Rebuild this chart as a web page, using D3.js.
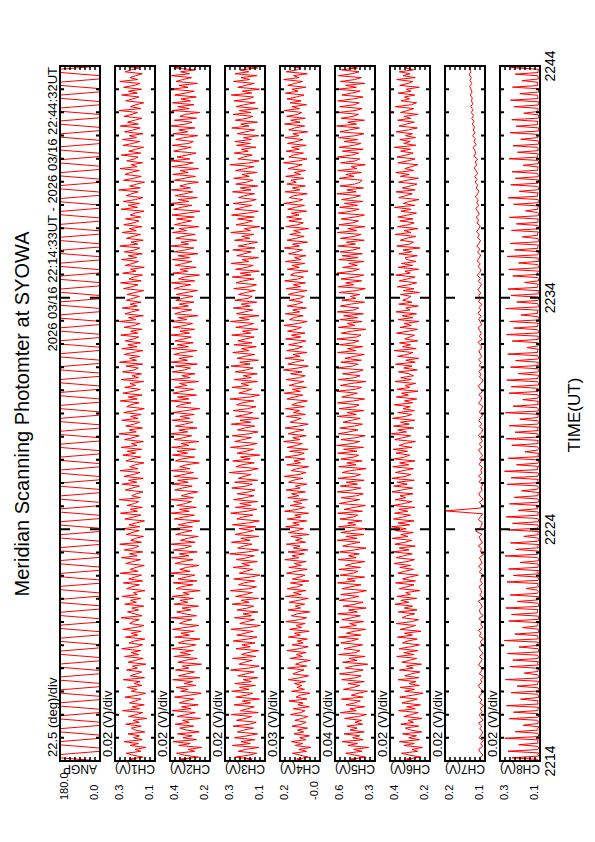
<!DOCTYPE html>
<html>
<head>
<meta charset="utf-8">
<script src="https://cdn.jsdelivr.net/npm/d3@7"></script>
<style>
  body { margin: 0; background: #fff; }
  text { font-family: "Liberation Sans", Arial, Helvetica, sans-serif; fill: #000; }
</style>
</head>
<body>
<div id="chart"></div>
<script>
// ---- data (time in minutes after 22:14 UT, channel values in mV, angle in deg) ----
var timeTicks = [0, 10, 20, 30];
var timeLabels = ["2214", "2224", "2234", "2244"];

var channels = ["ANGP", "CH1(V)", "CH2(V)", "CH3(V)", "CH4(V)", "CH5(V)", "CH6(V)", "CH7(V)", "CH8(V)"];
var divLabels = ["22.5 (deg)/div", "0.02 (V)/div", "0.02 (V)/div", "0.02 (V)/div", "0.03 (V)/div",
                 "0.04 (V)/div", "0.02 (V)/div", "0.02 (V)/div", "0.02 (V)/div"];
var topLabels = ["180.0", "0.3", "0.4", "0.3", "0.2", "0.6", "0.4", "0.2", "0.3"];
var bottomLabels = ["0.0", "0.1", "0.2", "0.1", "-0.0", "0.3", "0.2", "0.1", "0.1"];
var rangeMin = [0, 100, 220, 120, -20, 300, 220, 80, 120];
var rangeMax = [180, 260, 380, 280, 220, 620, 380, 240, 280];

// mirror angle: fast sweep, short hold at each end
var ang = [0,180,180,0, 0,180,180,0, 0,180,180,0, 0,180,180,0, 0,180,180,0,
  0,180,180,0, 0,180,180,0, 0,180,180,0, 0,180,180,0, 0,180,180,0,
  0,180,180,0, 0,180,180,0, 0,180,180,0, 0,180,180,0, 0,180,180,0,
  0,180,180,0, 0,180,180,0, 0,180,180,0, 0,180,180,0, 0,180,180,0,
  0,180,180,0, 0,180,180,0, 0,180,180,0, 0,180,180,0, 0,180,180,0,
  0,180,180,0, 0,180,180,0, 0,180,180,0, 0,180,180,0, 0,180,180,0,
  0,180,180,0, 0,180,180,0, 0,180,180,0, 0,180,180,0, 0,180,180,0,
  0,180,180,0, 0,180,180,0, 0,180,180,0, 0,180,180,0, 0,180,180,0,
  0,180,180,0, 0,180,180,0, 0,180,180,0, 0,180,180,0, 0,180,180,0,
  0,180,180,0, 0,180,180,0, 0,180,180,0, 0,180,180,0, 0,180,180,0,
  0,180,180,0, 0,180,180,0, 0,180,180,0, 0,180,180,0];

var ch1 = [170,201,148,188,215,157,179,136,199,166,224,151,186,162,208,141,180,194,155,217,
  163,188,133,206,174,149,230,161,192,143,202,179,156,220,167,138,195,173,211,152,
  184,160,227,142,199,175,153,214,170,191,136,208,179,147,222,165,196,158,233,174,
  150,204,183,141,218,169,195,155,229,177,144,201,188,163,236,152,180,210,166,193,
  145,221,174,198,157,232,171,186,140,213,193,162,227,149,205,181,154,239,168,199,
  176,143,217,190,158,234,171,202,149,223,183,165,241,154,197,178,146,215,192,163,
  230,161,204,175,142,221,187,156,238,170,199,151,212,182,165,243,158,193,174,148,
  219,191,162,232,173,206,147,224,186,160,240,168,201,179,144,216,195,157,229,177,
  211,153,235,172,194,146,222,188,163,244,175,203,150,217,184,161,233,169,198,155,
  225,181,143,213,196,164,239,171,207,152,228,187,159,221,178,200,145,236,166,192,
  154,230,183,167,216,149,242,174,202,161,223,190,148,233,172,209,158,219,186,165,
  237,169,197,153,224,182,160,243,176,206,147,220,193,163,231,171,200,156,215,188,
  162,212,179,145,226,191,168,238,155,204,185,150,229,176,198,143,219,189,166,234,
  173,207,151,223,180,161,241,169,196,147,214,187,158,232,175,203,152,225,184,164,
  218,157,199,181,144,236,170,208,162,227,178,149,215,194,167,245,159,201,173,142,
  226,185,155,220,198,163,240,172,195,150,213,182,168,235,157,205,177,146,228,190,
  161,231,174,203,148,222,186,159,239,167,210,181,153,224,192,170,244,156,198,176,
  145,217,189,164,233,171,206,154,226,183,160,241,169,200,178,151,220,194,163,237];

var ch2 = [295,338,266,321,354,281,307,253,345,299,368,274,328,291,350,263,315,341,285,359,
  303,330,258,352,312,279,371,296,334,267,343,318,285,362,301,255,337,309,356,276,
  324,290,369,261,346,313,282,358,305,331,254,349,319,271,365,298,339,287,373,310,
  277,347,322,260,361,302,336,283,370,316,265,342,325,293,375,274,320,353,297,332,
  266,364,308,340,286,372,303,327,259,355,334,289,367,272,348,315,281,377,300,341,
  314,264,360,329,288,374,304,343,271,366,321,294,378,280,338,311,267,357,330,292,
  369,290,347,312,261,363,326,283,376,303,342,275,353,318,294,379,287,335,308,269,
  361,330,291,373,307,349,269,365,324,286,377,300,341,315,263,358,334,282,370,309,
  352,278,374,304,336,265,363,327,293,380,309,345,272,359,321,288,372,301,339,283,
  366,317,261,355,337,296,376,305,350,274,368,328,286,361,313,342,266,375,299,333,
  280,371,322,298,358,271,378,310,344,289,365,331,273,374,306,351,287,360,325,295,
  376,302,340,282,367,319,290,379,312,349,269,361,334,293,372,306,343,284,357,329,
  288,355,316,270,364,337,297,375,281,346,323,262,368,309,339,276,359,326,292,371,
  301,348,268,363,319,285,377,306,336,273,357,328,279,370,314,344,265,362,331,294,
  354,283,372,311,260,366,335,292,378,304,347,271,359,320,289,374,298,341,313,267,
  362,324,278,369,307,339,266,373,318,287,376,301,352,311,276,365,333,295,371,305,
  287,357,325,269,368,309,345,280,377,316,292,363,274,340,321,261,372,303,349,284,
  370,298,336,275,361,318,283,379,308,344,270,356,329,294,374,302,338,279,365,312];

var ch3 = [208,171,239,185,153,227,198,144,250,179,216,161,242,192,150,231,204,166,248,181,
  155,234,200,173,255,147,218,189,163,244,178,211,142,237,195,169,253,184,222,158,
  241,175,207,149,229,196,164,258,186,143,224,202,171,250,157,214,190,145,236,179,
  212,160,247,188,152,233,200,167,256,181,139,221,194,162,243,174,208,148,232,191,
  165,252,183,215,146,238,199,170,259,187,154,226,205,161,245,178,140,223,197,169,
  248,182,213,151,235,193,163,261,189,146,229,206,172,254,180,217,144,240,201,166,
  224,157,250,186,143,233,210,168,257,192,153,239,176,221,149,246,198,164,231,185,
  160,253,195,171,242,149,227,204,175,263,184,147,236,213,163,249,179,218,141,232,
  196,166,258,188,152,241,209,174,251,183,148,230,202,161,255,177,220,145,238,193,
  169,247,190,156,234,212,165,260,181,142,225,199,173,252,186,216,150,243,175,207,
  151,239,194,167,256,180,221,146,232,203,161,249,185,214,155,244,172,228,198,163,
  253,177,210,148,237,191,166,258,183,223,144,234,200,169,247,179,215,153,241,188,
  171,226,197,159,245,182,154,236,207,164,251,176,219,143,238,193,167,255,185,212,
  146,233,204,175,249,160,227,189,150,242,181,213,165,257,178,203,141,236,196,170,
  230,163,254,191,147,240,209,173,247,186,155,226,201,162,250,176,219,149,237,194,
  168,245,183,212,152,238,199,164,259,180,144,228,205,171,243,187,214,156,234,179,
  241,174,206,145,231,196,161,253,184,217,150,239,192,168,248,177,223,147,235,202,
  159,244,188,166,255,173,211,142,229,197,163,246,181,216,153,240,185,221,149,232];

var ch4 = [72,120,48,99,145,61,107,34,130,83,152,65,102,43,136,78,115,55,148,91,
  63,131,87,52,158,95,70,141,44,113,82,166,58,124,99,40,151,73,119,89,
  134,67,171,101,49,143,112,76,175,60,127,94,38,161,86,122,64,179,105,51,
  148,81,116,56,170,98,133,45,162,90,124,69,185,103,61,152,118,41,173,96,
  129,72,164,110,50,188,93,139,65,176,114,83,158,47,146,102,70,181,123,57,
  167,92,134,63,191,107,148,74,172,53,140,100,182,66,127,87,155,46,169,117,
  79,186,104,143,60,177,95,131,49,193,113,72,160,89,138,55,174,108,151,68,
  183,99,128,59,169,142,82,195,106,64,153,121,48,180,97,136,71,189,111,75,
  162,53,177,120,86,198,101,144,63,171,130,77,190,108,51,159,124,92,182,67,
  140,102,187,73,149,115,56,178,135,83,194,98,146,61,166,121,78,184,104,69,
  157,88,199,112,50,173,132,76,191,100,142,59,180,118,85,168,107,65,186,95,
  151,70,175,123,91,196,109,57,163,138,81,188,102,144,62,177,116,84,165,99,
  74,171,126,58,183,97,140,67,192,111,79,157,134,52,176,105,149,71,187,94,
  133,64,169,119,86,194,103,145,55,178,127,75,161,98,139,48,185,113,80,167,
  90,181,106,152,60,174,128,73,197,117,84,164,137,57,189,101,146,68,179,122,
  154,77,186,96,135,66,172,125,87,199,110,58,166,141,79,183,104,150,63,175,
  118,82,190,107,143,54,168,131,72,193,99,156,69,180,114,89,195,103,147,61,
  160,93,178,121,76,187,112,148,65,174,129,85,198,106,139,56,182,117,95,171];

var ch5 = [425,492,375,458,534,404,470,351,516,440,563,394,479,423,548,386,500,443,525,399,
  461,407,543,431,369,578,450,501,383,531,464,418,569,395,489,435,360,553,473,422,
  516,385,566,452,411,584,469,395,539,481,358,560,443,508,379,591,455,421,548,476,
  399,572,490,433,593,414,529,466,375,581,448,503,390,566,484,417,598,441,512,371,
  555,460,396,587,504,429,574,449,368,564,492,413,600,458,523,383,578,471,436,589,
  415,540,477,381,595,451,512,426,583,468,372,559,499,420,603,443,533,389,573,486,
  365,592,454,518,405,581,475,438,599,401,547,467,377,586,506,424,569,448,394,601,
  482,413,578,440,530,387,596,462,416,563,495,371,590,452,524,403,575,469,431,598,
  444,551,392,607,478,423,571,454,379,593,509,436,582,465,400,556,487,418,603,449,
  524,390,588,460,428,600,472,383,565,502,441,606,457,407,577,491,372,595,464,419,
  560,443,395,602,481,434,574,410,541,466,386,599,455,520,399,585,474,429,604,447,
  412,570,488,375,593,461,523,403,582,439,551,393,601,469,431,578,494,384,564,453,
  496,421,587,448,378,596,471,535,407,572,459,390,604,483,425,558,442,510,388,590,
  437,563,402,581,475,419,597,456,529,386,576,467,411,602,445,517,380,589,478,432,
  571,459,385,594,490,427,583,440,545,398,567,472,416,605,451,526,392,579,463,420,
  403,586,468,533,409,598,446,491,377,574,458,422,600,485,431,561,396,588,470,414,
  548,438,592,457,389,580,503,425,607,447,519,384,571,476,433,596,455,404,583,465,
  426,597,474,395,565,489,418,602,449,536,381,577,462,410,593,483,428,569,441,555];

var ch6 = [278,315,257,301,334,269,292,250,324,283,343,262,305,274,330,253,298,319,265,337,
  286,308,252,325,294,267,346,279,313,258,332,300,271,341,289,248,321,282,339,263,
  304,276,348,265,321,295,260,342,287,315,254,333,302,273,353,284,325,269,344,297,
  262,330,308,271,350,290,322,256,339,305,278,355,293,266,332,314,281,347,272,323,
  290,360,305,337,273,352,299,317,261,343,312,284,358,278,330,303,267,349,321,286,
  341,297,364,312,282,355,326,291,369,304,343,279,361,320,293,371,308,337,287,358,
  315,374,301,348,284,366,330,298,362,309,345,281,368,323,292,360,317,340,288,372,
  333,289,365,311,351,283,373,319,296,358,327,286,369,305,342,280,363,322,301,356,
  310,367,292,344,321,278,361,329,297,375,314,349,285,366,303,338,281,370,318,293,
  349,282,328,299,363,290,322,273,355,306,334,268,352,301,319,277,360,295,337,286,
  304,346,271,325,292,358,279,317,265,350,311,288,363,275,330,298,342,269,321,301,
  282,354,307,270,340,295,323,264,348,288,332,274,356,300,317,267,345,292,329,309,
  296,338,262,327,284,351,305,273,343,311,280,357,299,320,266,348,289,334,276,314,
  319,271,345,293,328,260,353,302,286,339,315,277,360,296,324,268,350,307,283,341,
  288,349,310,274,336,297,362,281,327,305,264,345,318,291,356,279,331,300,272,346,
  312,266,339,303,357,285,321,295,269,348,308,280,352,315,287,337,298,363,276,325,
  299,341,278,318,290,355,306,271,344,313,283,350,297,324,267,338,309,285,359,294,
  274,336,302,322,281,347,296,315,263,341,307,289,353,279,328,300,343,286,318,305];

var ch7 = [92,102,88,99,105,90,97,86,104,94,89,101,93,106,87,98,103,91,100,85,
  101,92,105,95,88,99,107,93,97,86,103,94,90,106,98,91,102,87,97,104,
  91,99,86,103,95,106,89,97,93,105,87,100,102,91,96,107,86,101,93,97,
  104,90,99,95,87,103,93,106,91,97,102,86,99,94,107,90,97,104,92,117,
  101,94,91,106,98,89,238,97,92,103,87,99,105,91,96,89,104,94,106,92,
  97,91,104,95,101,89,98,106,92,103,90,97,107,94,88,102,93,105,98,90,
  103,94,89,106,97,92,105,90,99,107,94,88,102,96,105,91,104,95,106,93,
  99,105,93,97,108,91,103,95,101,107,93,99,105,95,109,97,103,92,106,98,
  105,97,109,100,94,107,98,111,101,96,108,99,112,103,97,110,100,113,104,98,
  110,102,114,105,99,112,106,116,103,109,117,105,113,107,119,110,104,116,108,120,
  112,121,109,116,123,113,119,110,125,117,121,128,115,124,119,130,120,127,122,131,
  124,133,126,135,128,137,129,134,131,139,132,136,141,133,140,135,143,137,141,139];

var ch8 = [127,129,232,126, 128,126,248,130, 125,129,205,127, 130,127,261,126, 126,128,219,129,
  129,125,187,128, 127,130,243,126, 126,128,226,129, 128,126,254,127, 130,127,198,125,
  127,129,236,128, 125,128,212,130, 129,126,258,127, 126,130,183,128, 128,127,241,126,
  130,126,229,128, 127,129,250,125, 126,128,204,130, 129,126,263,127, 128,130,221,126,
  126,128,190,129, 129,127,245,126, 127,125,234,130, 130,128,257,127, 125,129,211,128,
  128,126,239,130, 127,130,176,126, 129,127,252,128, 126,129,227,125, 130,126,246,128,
  127,128,199,126, 125,130,260,129, 128,127,217,126, 130,125,238,128, 126,129,185,127,
  129,126,249,130, 127,128,230,125, 126,130,255,128, 128,127,208,129, 130,126,242,127,
  125,129,223,128, 128,126,194,130, 127,130,251,126, 129,127,236,128, 126,128,262,129,
  130,125,214,127, 127,129,247,126, 128,126,180,130, 126,130,233,127, 129,127,256,128,
  127,128,220,126, 130,126,243,129, 125,129,201,128, 128,127,259,126, 126,130,228,127,
  129,126,189,128, 127,128,244,130, 130,127,235,125, 126,129,253,128, 128,126,207,129,
  125,130,238,127, 129,127,218,126, 127,128,249,130, 130,126,172,128, 126,129,231,127,
  128,127,254,126, 127,130,225,129, 129,126,241,128, 126,128,196,130, 130,127,257,126,
  127,129,213,128, 125,128,236,127, 128,126,248,130, 129,127,182,126, 126,130,229,128,
  130,126,245,127, 127,129,206,126, 128,127,252,129, 126,130,222,128, 129,126,239,127,
  127,128,191,130, 130,126,234,125, 126,129,215,128, 128,127,243,126, 125,130,178,129,
  129,126,226,127, 127,128,247,130, 130,127,203,126, 126,129,237,128, 128,126,219,127,
  127,130,232,129, 129,127,188,126, 126,128,244,130, 130,126,210,127, 128,129,228,126,
  126,127,197,128, 129,130,240,127, 127,126,216,129, 130,128,233,126, 125,127,185,130,
  128,129,224,127, 127,126,238,128, 129,130,201,126, 126,127,230,129, 130,128,192,127,
  127,129,219,128, 128,126,235,127];

var series = [ang, ch1, ch2, ch3, ch4, ch5, ch6, ch7, ch8];

// ---- layout: the plot is drawn landscape and turned a quarter left onto the page ----
var W = 595, H = 842;
var panelTop0 = 60, panelStep = 55, panelH = 40;

var svg = d3.select("#chart").append("svg")
  .attr("width", W).attr("height", H);
svg.append("rect").attr("width", W).attr("height", H).attr("fill", "#fff");

var g = svg.append("g").attr("transform", "translate(0," + H + ") rotate(-90)");

var x = d3.scaleLinear().domain([0, 30]).range([81, 776]);

// title and header
g.append("text")
  .attr("x", 428).attr("y", 29)
  .attr("text-anchor", "middle")
  .style("font-size", "20px")
  .text("Meridian Scanning Photomter at SYOWA");

g.append("text")
  .attr("x", 775).attr("y", 57)
  .attr("text-anchor", "end")
  .style("font-size", "13px")
  .text("2026 03/16 22:14:33UT - 2026 03/16 22:44:32UT");

var defs = svg.append("defs");

series.forEach(function (data, i) {
  var top = panelTop0 + i * panelStep;
  var y = d3.scaleLinear().domain([rangeMin[i], rangeMax[i]]).range([top + panelH, top]);
  var n = data.length;

  defs.append("clipPath").attr("id", "clip" + i)
    .append("rect")
    .attr("x", x(0)).attr("y", top)
    .attr("width", x(30) - x(0)).attr("height", panelH);

  var line = d3.line()
    .x(function (d, j) { return x(j * 30 / (n - 1)); })
    .y(function (d) { return y(d); });

  g.append("path")
    .datum(data)
    .attr("clip-path", "url(#clip" + i + ")")
    .attr("d", line)
    .attr("fill", "none")
    .attr("stroke", "#ff0000")
    .attr("stroke-width", 1);

  // minute ticks on the long edges
  var minutes = d3.range(1, 30);
  g.selectAll(null).data(minutes).enter().append("path")
    .attr("d", function (t) {
      var len = (t % 10 === 0) ? 10 : 4;
      var px = x(t);
      return "M" + px + "," + top + "v" + len + "M" + px + "," + (top + panelH) + "v" + (-len);
    })
    .attr("stroke", "#000")
    .attr("stroke-width", 2);

  // value ticks on the short edges, one per division
  var divs = d3.range(1, 8).map(function (k) {
    return rangeMin[i] + k * (rangeMax[i] - rangeMin[i]) / 8;
  });
  g.selectAll(null).data(divs).enter().append("path")
    .attr("d", function (v) {
      var py = y(v);
      return "M" + x(0) + "," + py + "h4M" + x(30) + "," + py + "h-4";
    })
    .attr("stroke", "#000")
    .attr("stroke-width", 1.5);

  // frame
  g.append("rect")
    .attr("x", x(0)).attr("y", top)
    .attr("width", x(30) - x(0)).attr("height", panelH)
    .attr("fill", "none")
    .attr("stroke", "#000")
    .attr("stroke-width", 2);

  // scale per division
  g.append("text")
    .attr("x", x(0) + 4).attr("y", top - 3)
    .style("font-size", "13px")
    .text(divLabels[i]);

  // channel name, written up the page in the landscape frame
  g.append("text")
    .attr("transform", "translate(77," + (top + panelH / 2) + ") rotate(-90)")
    .attr("text-anchor", "middle")
    .style("font-size", "12px")
    .text(channels[i]);

  g.append("text")
    .attr("x", 42).attr("y", top + 8)
    .style("font-size", "11px")
    .text(topLabels[i]);

  g.append("text")
    .attr("x", 42).attr("y", top + 38)
    .style("font-size", "11px")
    .text(bottomLabels[i]);
});

// time axis labels under the last panel
g.selectAll(null).data(timeTicks).enter().append("text")
  .attr("x", function (t) { return x(t); })
  .attr("y", 555)
  .attr("text-anchor", "middle")
  .style("font-size", "14px")
  .text(function (t, k) { return timeLabels[k]; });

g.append("text")
  .attr("x", 427).attr("y", 580)
  .attr("text-anchor", "middle")
  .style("font-size", "17px")
  .text("TIME(UT)");
</script>
</body>
</html>
